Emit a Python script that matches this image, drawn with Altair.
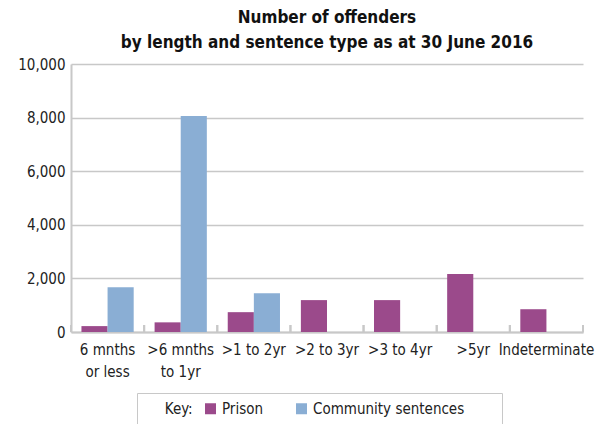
import altair as alt
import pandas as pd

categories = ["6 mnths|or less", ">6 mnths|to 1yr", ">1 to 2yr", ">2 to 3yr", ">3 to 4yr", ">5yr", "Indeterminate"]
prison = [220, 360, 740, 1190, 1190, 2160, 850]
community = [1670, 8060, 1450, None, None, None, None]
series_names = ["Prison", "Community sentences"]
colors = ["#9B4A8B", "#8AAED4"]

rows = []
for c, p, m in zip(categories, prison, community):
    rows.append({"cat": c, "series": "Prison", "value": p})
    if m is not None:
        rows.append({"cat": c, "series": "Community sentences", "value": m})
df = pd.DataFrame(rows)
ticks_df = pd.DataFrame({"cat": categories})

FONT = "Liberation Sans Narrow, DejaVu Sans Condensed, Roboto, sans-serif"
BL = "\u2800"

xscale = alt.Scale(domain=categories, paddingInner=0, paddingOuter=0)

bars = alt.Chart(df).mark_bar().encode(
    x=alt.X("cat:N", scale=xscale, sort=categories,
            axis=alt.Axis(title=None, labelAngle=0, ticks=False, domain=True,
                          domainColor="#C8C8C8", domainWidth=2,
                          labelExpr="split(datum.value, '|')",
                          labelFontSize=15, labelColor="#222222",
                          labelPadding=10, labelLineHeight=22, labelBaseline="top")),
    xOffset=alt.XOffset("series:N", sort=series_names,
                        scale=alt.Scale(domain=series_names, paddingInner=0, paddingOuter=0.4)),
    y=alt.Y("value:Q", scale=alt.Scale(domain=[0, 10000]),
            axis=alt.Axis(title=None, values=[0, 2000, 4000, 6000, 8000, 10000], format=",.0f",
                          ticks=False, domainColor="#C8C8C8", domainWidth=2,
                          gridColor="#C8C8C8", gridWidth=1.5,
                          labelFontSize=15, labelColor="#222222", labelPadding=6)),
    color=alt.Color("series:N", sort=series_names,
                    scale=alt.Scale(domain=series_names, range=colors),
                    legend=alt.Legend(title=BL * 2 + "Key:", orient="none", legendX=66, legendY=329,
                                      direction="horizontal", titleOrient="left",
                                      titleFontSize=15, titleFontWeight="normal",
                                      titleColor="#222222", labelFontSize=15,
                                      labelColor="#222222", symbolType="square",
                                      symbolSize=121, symbolStrokeWidth=0,
                                      strokeColor="#C8C8C8", padding=8,
                                      columnPadding=30, titlePadding=10,
                                      labelOffset=4, labelLimit=300,
                                      labelExpr="datum.label == 'Community sentences' ? datum.label + '" + BL * 3 + "' : datum.label")),
)

tick_start = alt.Chart(ticks_df).mark_rule(color="#C8C8C8", strokeWidth=2).encode(
    x=alt.X("cat:N", scale=xscale, sort=categories, bandPosition=0),
    y=alt.value(261), y2=alt.value(268))
tick_end = alt.Chart(ticks_df).mark_rule(color="#C8C8C8", strokeWidth=2).encode(
    x=alt.X("cat:N", scale=xscale, sort=categories, bandPosition=1),
    y=alt.value(261), y2=alt.value(268))

chart = alt.layer(bars, tick_start, tick_end).properties(
    width=512, height=268,
    title=alt.TitleParams(["Number of offenders", "by length and sentence type as at 30 June 2016"],
                          fontSize=17, fontWeight="bold", color="#111111", lineHeight=25,
                          anchor="middle", offset=5),
    autosize=alt.AutoSizeParams(type="none"),
    padding={"left": 71, "top": 64, "right": 22, "bottom": 92},
).configure(font=FONT).configure_view(stroke=None)

chart.save("out.html", embed_options={"renderer": "svg", "actions": False})
